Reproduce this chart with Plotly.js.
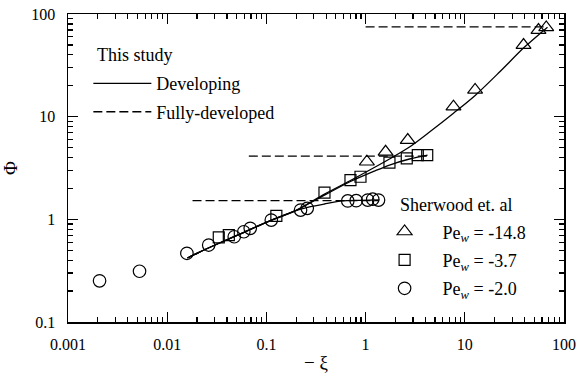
<!DOCTYPE html>
<html>
<head>
<meta charset="utf-8">
<script src="https://cdn.plot.ly/plotly-3.0.1.min.js"></script>
<style>html,body{margin:0;padding:0;background:#fff;}#chart{width:577px;height:378px;}</style>
</head>
<body>
<div id="chart"></div>
<script>
// Sherwood et al. experimental data
var circleX = [0.00208, 0.00526, 0.0158, 0.0262, 0.0474, 0.0592, 0.0687, 0.112, 0.221, 0.258, 0.661, 0.804, 1.05, 1.18, 1.35];
var circleY = [0.252, 0.312, 0.467, 0.562, 0.677, 0.757, 0.818, 0.984, 1.23, 1.28, 1.51, 1.52, 1.54, 1.57, 1.54];
var squareX = [0.0331, 0.0418, 0.126, 0.385, 0.704, 0.888, 1.74, 2.60, 3.36, 4.18];
var squareY = [0.668, 0.703, 1.08, 1.82, 2.41, 2.60, 3.56, 3.93, 4.23, 4.23];
var triX = [1.03, 1.59, 2.66, 7.69, 12.7, 39.1, 55.3, 66.2];
var triY = [3.64, 4.55, 5.92, 12.5, 18.2, 49.8, 69.7, 74.0];

// This study: developing curves
var dev148X = [0.016, 0.0212, 0.0337, 0.0602, 0.107, 0.192, 0.385, 0.688, 1.10, 1.74, 2.77, 4.41, 7.69, 12.8, 22.4, 40.0, 68.2];
var dev148Y = [0.420, 0.480, 0.588, 0.752, 0.962, 1.20, 1.76, 2.36, 3.02, 3.87, 5.06, 7.08, 10.8, 16.2, 27.2, 47.6, 74.5];
var dev37X = [0.016, 0.0212, 0.0337, 0.0602, 0.107, 0.192, 0.385, 0.688, 1.23, 1.74, 2.77, 4.21];
var dev37Y = [0.420, 0.480, 0.588, 0.752, 0.962, 1.20, 1.72, 2.31, 2.95, 3.38, 3.87, 4.23];
var dev20X = [0.016, 0.0212, 0.0337, 0.0602, 0.107, 0.192, 0.272, 0.385, 0.585, 0.868, 1.38];
var dev20Y = [0.420, 0.480, 0.588, 0.752, 0.962, 1.20, 1.32, 1.41, 1.51, 1.53, 1.55];

// This study: fully-developed limits
var fd20X = [0.018, 1.35];  var fd20Y = [1.52, 1.52];
var fd37X = [0.0665, 4.2];  var fd37Y = [4.13, 4.13];
var fd148X = [1.0, 68];     var fd148Y = [75, 75];

// labels
var legendTitle1 = 'This study';
var legendTitle2 = 'Sherwood et. al';
var devName = 'Developing';
var fdName = 'Fully-developed';
var peNames = ['Pe<sub><i>w</i></sub> = -14.8', 'Pe<sub><i>w</i></sub> = -3.7', 'Pe<sub><i>w</i></sub> = -2.0'];
var xTickVals = [0.001, 0.01, 0.1, 1, 10, 100];
var xTickText = ['0.001', '0.01', '0.1', '1', '10', '100'];
var yTickVals = [0.1, 1, 10, 100];
var yTickText = ['0.1', '1', '10', '100'];
var xTitle = '\u2212 \u03BE';
var yTitle = '\u03A6';

var FONT = '"Liberation Serif", "Times New Roman", serif';
var solid = {color: '#000', width: 1.3, shape: 'spline', smoothing: 0.8};
var dashed = {color: '#000', width: 1.3, dash: '9px,4px'};

var traces = [
  {x: dev148X, y: dev148Y, mode: 'lines', line: solid, name: devName, legend: 'legend', legendgroup: 'a', showlegend: true},
  {x: dev37X, y: dev37Y, mode: 'lines', line: solid, legend: 'legend', showlegend: false},
  {x: dev20X, y: dev20Y, mode: 'lines', line: solid, legend: 'legend', showlegend: false},
  {x: fd148X, y: fd148Y, mode: 'lines', line: dashed, name: fdName, legend: 'legend', legendgroup: 'b', showlegend: true},
  {x: fd37X, y: fd37Y, mode: 'lines', line: dashed, legend: 'legend', showlegend: false},
  {x: fd20X, y: fd20Y, mode: 'lines', line: dashed, legend: 'legend', showlegend: false},
  {x: triX, y: triY, mode: 'markers', name: peNames[0], legend: 'legend2', legendgroup: 'c',
   marker: {symbol: 'triangle-up-open', size: 13, color: '#000', line: {width: 1.2}}},
  {x: squareX, y: squareY, mode: 'markers', name: peNames[1], legend: 'legend2', legendgroup: 'd',
   marker: {symbol: 'square-open', size: 11, color: '#000', line: {width: 1.2}}},
  {x: circleX, y: circleY, mode: 'markers', name: peNames[2], legend: 'legend2', legendgroup: 'e',
   marker: {symbol: 'circle-open', size: 12.5, color: '#000', line: {width: 1.2}}}
];

var axisCommon = {
  type: 'log', showgrid: false, zeroline: false, showline: true, linecolor: '#000', linewidth: 1.5,
  mirror: 'allticks', ticks: 'inside', ticklen: 10, tickwidth: 1.2, tickcolor: '#000',
  tickfont: {family: FONT, size: 16, color: '#000'},
  minor: {ticks: 'inside', ticklen: 5, tickwidth: 1.2, tickcolor: '#000', dtick: 'D1', showgrid: false}
};

var layout = {
  width: 577, height: 378,
  margin: {l: 68, r: 13, t: 14, b: 56},
  paper_bgcolor: '#fff', plot_bgcolor: '#fff',
  font: {family: FONT, size: 16, color: '#000'},
  xaxis: Object.assign({}, axisCommon, {
    range: [-3, 2], tickvals: xTickVals, ticktext: xTickText, ticklabelstandoff: 7,
    title: {text: xTitle, font: {family: FONT, size: 19}, standoff: 4}
  }),
  yaxis: Object.assign({}, axisCommon, {
    range: [-1, 2], tickvals: yTickVals, ticktext: yTickText, ticklabelstandoff: 8,
    title: {text: yTitle, font: {family: FONT, size: 19}, standoff: 16}
  }),
  legend: {
    x: 0.041, y: 0.834, xanchor: 'left', yanchor: 'top', bgcolor: 'rgba(0,0,0,0)',
    font: {family: FONT, size: 18}, tracegroupgap: 2, itemwidth: 58, traceorder: 'grouped'
  },
  legend2: {
    x: 0.602, y: 0.353, xanchor: 'left', yanchor: 'top', bgcolor: 'rgba(0,0,0,0)',
    font: {family: FONT, size: 18}, tracegroupgap: 2, itemwidth: 66, traceorder: 'grouped'
  },
  annotations: [
    {text: legendTitle1, xref: 'paper', yref: 'paper', x: 0.054, y: (322 - 55) / 308, xanchor: 'left', yanchor: 'middle',
     showarrow: false, font: {family: FONT, size: 18, color: '#000'}},
    {text: legendTitle2, xref: 'paper', yref: 'paper', x: 0.666, y: (322 - 205) / 308, xanchor: 'left', yanchor: 'middle',
     showarrow: false, font: {family: FONT, size: 18, color: '#000'}}
  ],
  showlegend: true
};

Plotly.newPlot('chart', traces, layout, {staticPlot: true, displayModeBar: false});
</script>
</body>
</html>
